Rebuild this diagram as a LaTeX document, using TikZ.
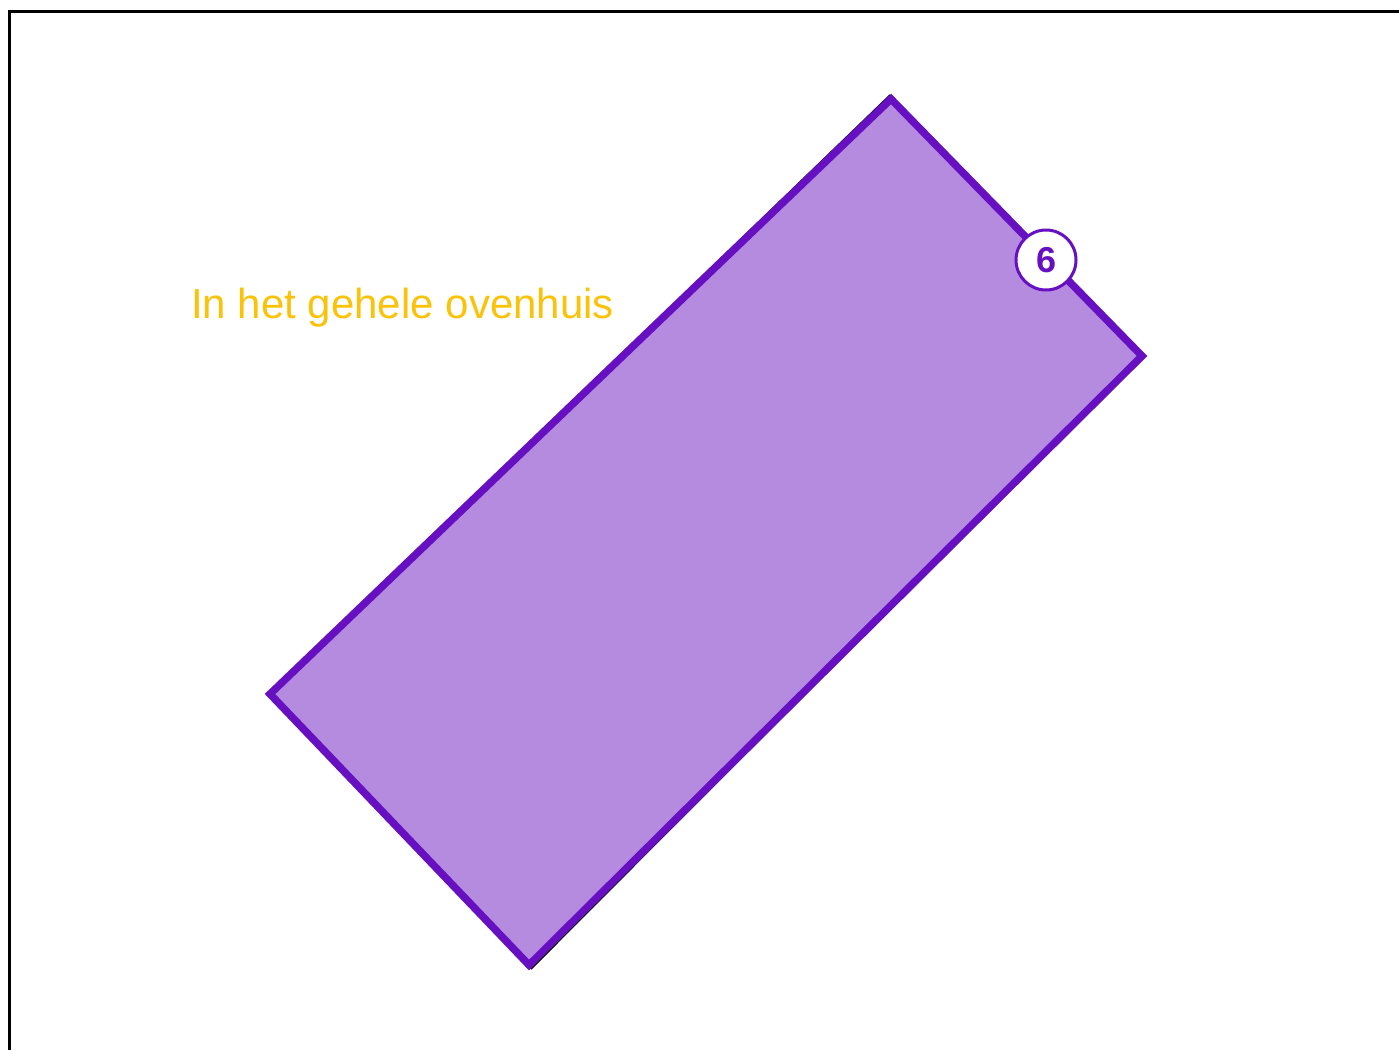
\documentclass[tikz,border=0pt]{standalone}
\usepackage{fontspec}
\setmainfont{Liberation Sans}
\usetikzlibrary{positioning}
\definecolor{zonefill}{HTML}{B58BE0}
\definecolor{zoneline}{HTML}{6710C2}
\definecolor{labelgold}{HTML}{FBC20A}
\tikzset{
  zone/.style={fill=zonefill, draw=zoneline, line width=7.5pt, line join=miter},
  badge/.style={circle, fill=white, draw=zoneline, line width=3pt, minimum size=60pt,
    inner sep=0pt, text=zoneline, font=\bfseries\fontsize{36}{36}\selectfont},
  roomlabel/.style={text=labelgold, font=\fontsize{42}{50}\selectfont, inner sep=0pt}
}
\begin{document}
\begin{tikzpicture}[x=1pt, y=-1pt]
  \useasboundingbox (0,0) rectangle (1399,1050);
  % frame
  \draw[line width=3pt] (9,1050) -- (9,11) -- (1399,11);

  % zone corners
  \coordinate (T) at (891,99);
  \coordinate (R) at (1142,356);
  \coordinate (B) at (529,965);
  \coordinate (L) at (270,694);
  % shadow outline
  \draw[line width=1.5pt] (L) -- (890,95);
  \draw[line width=1.5pt] (531,969) -- (R);
  \draw[zone] (T) -- (R) -- (B) -- (L) -- cycle;

  % badge
  \node[badge] (nr) at (1046,260) {6};

  % label
  \node[roomlabel, anchor=base west] (name) at (191,318) {In het gehele ovenhuis};
\end{tikzpicture}
\end{document}
